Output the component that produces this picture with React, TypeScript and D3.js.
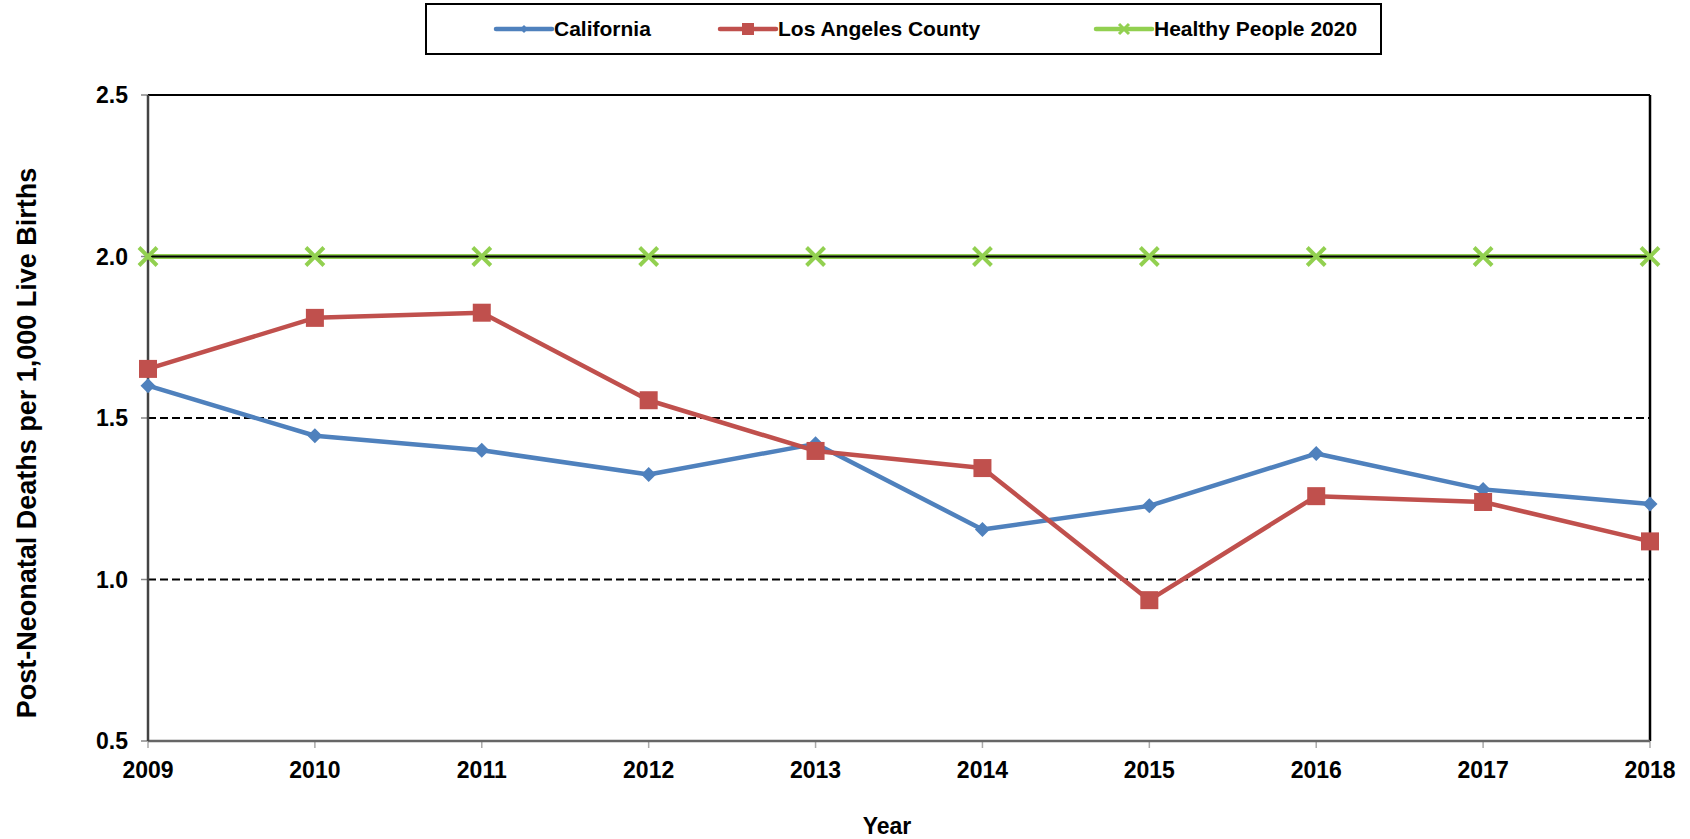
import React from "react";
import * as d3 from "d3";

const years = [2009, 2010, 2011, 2012, 2013, 2014, 2015, 2016, 2017, 2018];
const california = [1.6, 1.445, 1.4, 1.325, 1.42, 1.155, 1.228, 1.39, 1.279, 1.234];
const laCounty = [1.652, 1.81, 1.826, 1.555, 1.398, 1.345, 0.936, 1.258, 1.24, 1.118];
const healthyPeople = [2.0, 2.0, 2.0, 2.0, 2.0, 2.0, 2.0, 2.0, 2.0, 2.0];
const yTicks = [0.5, 1.0, 1.5, 2.0, 2.5];
const gridValues = [1.0, 1.5];

const BLUE = "#4F81BD";
const RED = "#C0504D";
const GREEN = "#92D050";
const FONT = "Liberation Sans, Arial, sans-serif";

export default function App() {
  const W = 1690, H = 839;
  const x = d3.scaleLinear().domain([2009, 2018]).range([148, 1650]);
  const y = d3.scaleLinear().domain([0.5, 2.5]).range([741, 95]);
  const line = d3
    .line<number>()
    .x((_, i) => x(years[i]))
    .y((d) => y(d));

  const diamond = (cx: number, cy: number, r: number) =>
    `M${cx},${cy - r}L${cx + r},${cy}L${cx},${cy + r}L${cx - r},${cy}Z`;
  const cross = (cx: number, cy: number, r: number) =>
    `M${cx - r},${cy - r}L${cx + r},${cy + r}M${cx - r},${cy + r}L${cx + r},${cy - r}`;

  const legendItems = [
    { label: "California", color: BLUE, x0: 496, kind: "d" },
    { label: "Los Angeles County", color: RED, x0: 720, kind: "s" },
    { label: "Healthy People 2020", color: GREEN, x0: 1096, kind: "x" },
  ];

  return (
    <svg width={W} height={H} style={{ position: "absolute", left: 0, top: 0, background: "#fff" }}>
      {/* legend */}
      <rect x={426} y={4} width={955} height={50} fill="#fff" stroke="#000" strokeWidth={2} />
      {legendItems.map((it) => {
        const cy = 29;
        const cx = it.x0 + 28;
        return (
          <g key={it.label}>
            <line x1={it.x0} x2={it.x0 + 56} y1={cy} y2={cy} stroke={it.color} strokeWidth={4.5} strokeLinecap="round" />
            {it.kind === "d" && <path d={diamond(cx, cy, 4)} fill={it.color} />}
            {it.kind === "s" && <rect x={cx - 6} y={cy - 6} width={12} height={12} fill={it.color} />}
            {it.kind === "x" && <path d={cross(cx, cy, 5)} stroke={it.color} strokeWidth={3} />}
            <text x={it.x0 + 58} y={cy} dy="0.35em" fontFamily={FONT} fontWeight="bold" fontSize={21} fill="#000">
              {it.label}
            </text>
          </g>
        );
      })}

      {/* grid */}
      {gridValues.map((v) => (
        <line key={v} x1={x(2009)} x2={x(2018)} y1={y(v)} y2={y(v)} stroke="#000" strokeWidth={2} strokeDasharray="8,4" />
      ))}

      {/* y ticks */}
      {yTicks.map((v) => (
        <g key={v}>
          <line x1={x(2009) - 7} x2={x(2009)} y1={y(v)} y2={y(v)} stroke="#888" strokeWidth={1.5} />
          <text x={128} y={y(v)} dy="0.35em" textAnchor="end" fontFamily={FONT} fontWeight="bold" fontSize={23} fill="#000">
            {d3.format(".1f")(v)}
          </text>
        </g>
      ))}

      {/* x ticks */}
      {years.map((yr) => (
        <g key={yr}>
          <line x1={x(yr)} x2={x(yr)} y1={y(0.5)} y2={y(0.5) + 7} stroke="#aaa" strokeWidth={1.5} />
          <text x={x(yr)} y={778} textAnchor="middle" fontFamily={FONT} fontWeight="bold" fontSize={23} fill="#000">
            {yr}
          </text>
        </g>
      ))}

      {/* borders */}
      <line x1={x(2009)} x2={x(2018)} y1={y(2.5)} y2={y(2.5)} stroke="#000" strokeWidth={2} />
      <line x1={x(2018)} x2={x(2018)} y1={y(2.5)} y2={y(0.5)} stroke="#000" strokeWidth={2.5} />
      <line x1={x(2009)} x2={x(2018)} y1={y(0.5)} y2={y(0.5)} stroke="#666" strokeWidth={2.5} />
      <line x1={x(2009)} x2={x(2009)} y1={y(2.5)} y2={y(0.5)} stroke="#444" strokeWidth={2.5} />

      {/* Healthy People */}
      <path d={line(healthyPeople) || ""} fill="none" stroke={GREEN} strokeWidth={5} />
      <line x1={x(2009)} x2={x(2018)} y1={y(2.0)} y2={y(2.0)} stroke="#000" strokeWidth={2} />
      {healthyPeople.map((v, i) => (
        <path key={i} d={cross(x(years[i]), y(v), 9)} stroke={GREEN} strokeWidth={4} fill="none" />
      ))}

      {/* California */}
      <path d={line(california) || ""} fill="none" stroke={BLUE} strokeWidth={4.5} strokeLinejoin="round" />
      {california.map((v, i) => (
        <path key={i} d={diamond(x(years[i]), y(v), 7.5)} fill={BLUE} />
      ))}

      {/* LA County */}
      <path d={line(laCounty) || ""} fill="none" stroke={RED} strokeWidth={4.5} strokeLinejoin="round" />
      {laCounty.map((v, i) => (
        <rect key={i} x={x(years[i]) - 9} y={y(v) - 9} width={18} height={18} fill={RED} />
      ))}

      {/* axis titles */}
      <text
        transform={`translate(27,${(y(2.5) + y(0.5)) / 2 + 25}) rotate(-90)`}
        textAnchor="middle"
        dy="0.35em"
        fontFamily={FONT}
        fontWeight="bold"
        fontSize={27}
        fill="#000"
      >
        Post-Neonatal Deaths per 1,000 Live Births
      </text>
      <text x={887} y={826} dy="0.35em" textAnchor="middle" fontFamily={FONT} fontWeight="bold" fontSize={23} fill="#000">
        Year
      </text>
    </svg>
  );
}
